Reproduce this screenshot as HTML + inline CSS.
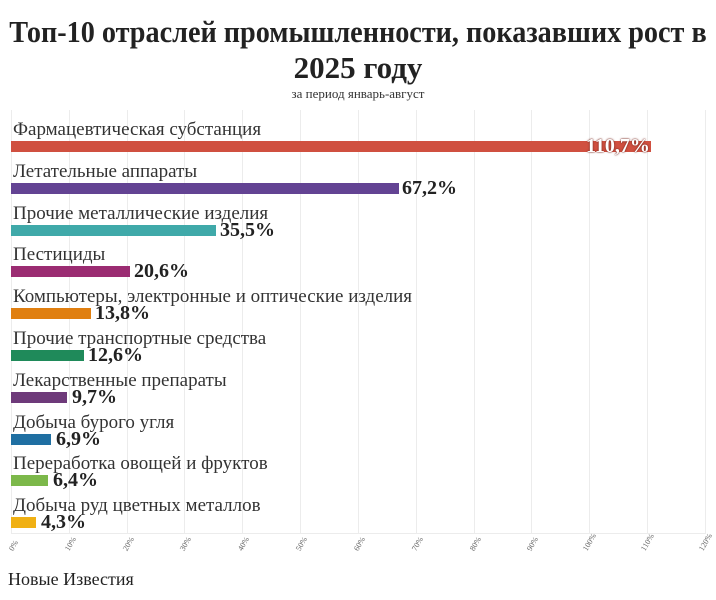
<!DOCTYPE html>
<html><head><meta charset="utf-8"><style>
body{margin:0;width:716px;height:600px;background:#fff;font-family:"Liberation Serif",serif;position:relative;overflow:hidden;color:#222}
.t{position:absolute;left:0;width:716px;text-align:center;font-weight:bold;font-size:31px;color:#222;white-space:nowrap}
.ts{position:absolute;left:358px;top:14px;font-weight:bold;font-size:31px;color:#222;white-space:nowrap;transform:translateX(-50%) scaleX(0.91)}
.g{position:absolute;top:110px;height:423px;width:1px;background:#ececec}
.lab{position:absolute;left:13px;font-size:19px;color:#333;white-space:nowrap}
.bar{position:absolute;left:11px;height:11px}
.v{position:absolute;font-weight:bold;font-size:20px;color:#222;white-space:nowrap}
.tk{position:absolute;top:548px;font-size:8px;color:#666;transform:rotate(-60deg);transform-origin:left top;white-space:nowrap}
</style></head><body>
<div class="ts">Топ-10 отраслей промышленности, показавших рост в</div>
<div class="t" style="top:50px">2025 году</div>
<div style="position:absolute;top:86px;width:716px;text-align:center;font-size:13px;color:#333">за период январь-август</div>
<div class="g" style="left:11px"></div><div class="g" style="left:69px"></div><div class="g" style="left:127px"></div><div class="g" style="left:184px"></div><div class="g" style="left:242px"></div><div class="g" style="left:300px"></div><div class="g" style="left:358px"></div><div class="g" style="left:416px"></div><div class="g" style="left:474px"></div><div class="g" style="left:531px"></div><div class="g" style="left:589px"></div><div class="g" style="left:647px"></div><div class="g" style="left:705px"></div>
<div style="position:absolute;left:11px;top:533px;width:695px;height:1px;background:#ececec"></div>

<div class="lab" style="top:119px">Фармацевтическая субстанция</div>
<div class="bar" style="top:141px;width:640px;background:#d05040"></div>
<div class="v" style="top:135px;left:586px;color:#fff;text-shadow:0 0 2px #7a2a20,0 0 1px #7a2a20">110,7%</div>

<div class="lab" style="top:161px">Летательные аппараты</div>
<div class="bar" style="top:183px;width:388px;background:#634393"></div>
<div class="v" style="top:177px;left:402px">67,2%</div>

<div class="lab" style="top:203px">Прочие металлические изделия</div>
<div class="bar" style="top:225px;width:205px;background:#3fa9a9"></div>
<div class="v" style="top:219px;left:220px">35,5%</div>

<div class="lab" style="top:244px">Пестициды</div>
<div class="bar" style="top:266px;width:119px;background:#9b2c72"></div>
<div class="v" style="top:260px;left:134px">20,6%</div>

<div class="lab" style="top:286px">Компьютеры, электронные и оптические изделия</div>
<div class="bar" style="top:308px;width:80px;background:#e07f10"></div>
<div class="v" style="top:302px;left:95px">13,8%</div>

<div class="lab" style="top:328px">Прочие транспортные средства</div>
<div class="bar" style="top:350px;width:73px;background:#1f8a5a"></div>
<div class="v" style="top:344px;left:88px">12,6%</div>

<div class="lab" style="top:370px">Лекарственные препараты</div>
<div class="bar" style="top:392px;width:56px;background:#6e3a7a"></div>
<div class="v" style="top:386px;left:72px">9,7%</div>

<div class="lab" style="top:412px">Добыча бурого угля</div>
<div class="bar" style="top:434px;width:40px;background:#1f6fa2"></div>
<div class="v" style="top:428px;left:56px">6,9%</div>

<div class="lab" style="top:453px">Переработка овощей и фруктов</div>
<div class="bar" style="top:475px;width:37px;background:#7cb84a"></div>
<div class="v" style="top:469px;left:53px">6,4%</div>

<div class="lab" style="top:495px">Добыча руд цветных металлов</div>
<div class="bar" style="top:517px;width:25px;background:#f0b013"></div>
<div class="v" style="top:511px;left:41px">4,3%</div>

<div class="tk" style="left:7px">0%</div><div class="tk" style="left:63px">10%</div><div class="tk" style="left:121px">20%</div><div class="tk" style="left:178px">30%</div><div class="tk" style="left:236px">40%</div><div class="tk" style="left:294px">50%</div><div class="tk" style="left:352px">60%</div><div class="tk" style="left:410px">70%</div><div class="tk" style="left:468px">80%</div><div class="tk" style="left:525px">90%</div><div class="tk" style="left:581px">100%</div><div class="tk" style="left:639px">110%</div><div class="tk" style="left:697px">120%</div>

<div style="position:absolute;left:8px;top:569px;font-size:18px;color:#222">Новые Известия</div>
</body></html>
